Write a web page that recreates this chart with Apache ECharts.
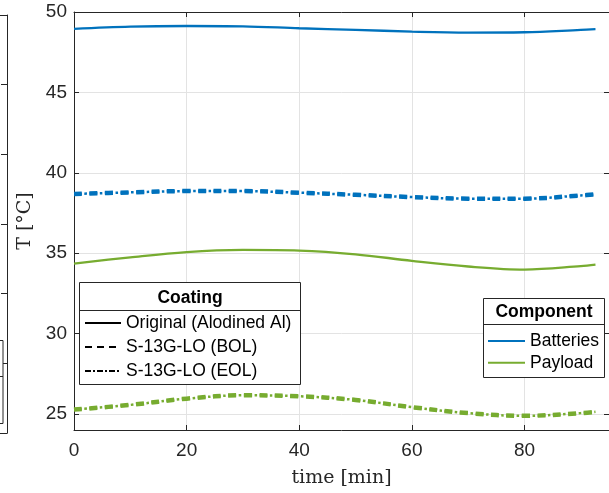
<!DOCTYPE html>
<html><head><meta charset="utf-8">
<script src="https://cdn.jsdelivr.net/npm/echarts@6/dist/echarts.min.js"></script>
<style>html,body{margin:0;padding:0;background:#fff;} #c{width:609px;height:493px;}</style>
</head><body><div id="c"></div>
<script>
// time [min]
const time = [0, 10, 20, 30, 40, 50, 60, 70, 80, 90, 92.6];
// Batteries temperature [°C]
const batteriesOriginal = [48.95, 49.09, 49.13, 49.11, 48.99, 48.89, 48.78, 48.72, 48.74, 48.89, 48.93];
const batteriesBOL = [38.68, 38.78, 38.86, 38.86, 38.76, 38.63, 38.49, 38.39, 38.39, 38.59, 38.66];
const batteriesEOL = [38.68, 38.78, 38.86, 38.86, 38.76, 38.63, 38.49, 38.39, 38.39, 38.59, 38.66];
// Payload temperature [°C]
const payloadOriginal = [34.35, 34.74, 35.07, 35.20, 35.16, 34.93, 34.52, 34.17, 33.98, 34.19, 34.28];
const payloadBOL = [25.27, 25.56, 25.95, 26.16, 26.10, 25.87, 25.42, 25.05, 24.88, 25.05, 25.13];
const payloadEOL = [25.27, 25.56, 25.95, 26.16, 26.10, 25.87, 25.42, 25.05, 24.88, 25.05, 25.13];
// ticks
const xTicks = [0, 20, 40, 60, 80];
const yTicks = [25, 30, 35, 40, 45, 50];
// legends
const coatingTitle = 'Coating';
const coatingNames = ['Original (Alodined Al)', 'S-13G-LO (BOL)', 'S-13G-LO (EOL)'];
const componentTitle = 'Component';
const componentNames = ['Batteries', 'Payload'];

const BLUE = '#0072BD', GREEN = '#77AC30', AX = '#262626', GRID = '#e3e3e3';
const SANS = 'Liberation Sans, Arial, Helvetica, sans-serif';
const SERIF = 'DejaVu Serif, Liberation Serif, serif';
const DASH = [8, 7.5];
const DASHDOT = [8, 2.5, 2.5, 2.5];

function pts(v) { return time.map((t, i) => [t, v[i]]); }
function line(name, data, color, type, width) {
  return { name, type: 'line', xAxisIndex: 0, yAxisIndex: 0, data: pts(data), smooth: 0.35,
    symbol: 'none', showSymbol: false, silent: true, z: 3,
    lineStyle: { color, type, width }, itemStyle: { color } };
}
function dummy(name, color, type) {
  return { name, type: 'line', xAxisIndex: 0, yAxisIndex: 0, data: [], symbol: 'none',
    lineStyle: { color, type, width: 2 }, itemStyle: { color, opacity: 0 } };
}

const legendCommon = { orient: 'vertical', padding: 0, itemHeight: 14, selectedMode: false, z: 10,
  itemStyle: { opacity: 0, borderWidth: 0 },
  textStyle: { fontSize: 17.5, fontFamily: SANS, color: '#000', lineHeight: 20 } };

const chart = echarts.init(document.getElementById('c'), null, { renderer: 'canvas' });
const option = {
  animation: false,
  backgroundColor: '#fff',
  grid: [
    { left: 74, top: 12, width: 537, height: 421, show: false },
    { left: 0, top: 15, width: 7, height: 418, show: false }
  ],
  xAxis: [
    { gridIndex: 0, type: 'value', min: 0, max: 95, interval: 20, position: 'bottom',
      axisLine: { show: true, onZero: false, lineStyle: { color: AX, width: 1 } },
      axisTick: { show: true, inside: true, length: 5, customValues: xTicks, lineStyle: { color: AX } },
      axisLabel: { customValues: xTicks, color: AX, fontSize: 19, fontFamily: SANS, margin: 11 },
      splitLine: { show: true, lineStyle: { color: GRID, width: 1 } },
      name: 'time [min]', nameLocation: 'middle', nameGap: 39,
      nameTextStyle: { fontFamily: SERIF, fontSize: 19, color: AX } },
    { gridIndex: 0, type: 'value', min: 0, max: 95, interval: 20, position: 'top',
      axisLine: { show: true, onZero: false, lineStyle: { color: AX, width: 1 } },
      axisTick: { show: true, inside: true, length: 5, customValues: xTicks, lineStyle: { color: AX } },
      axisLabel: { show: false }, splitLine: { show: false } },
    { gridIndex: 1, type: 'value', min: 0, max: 1, position: 'bottom',
      axisLine: { show: true, onZero: false, lineStyle: { color: AX } },
      axisTick: { show: false }, axisLabel: { show: false }, splitLine: { show: false } },
    { gridIndex: 1, type: 'value', min: 0, max: 1, position: 'top',
      axisLine: { show: true, onZero: false, lineStyle: { color: AX } },
      axisTick: { show: false }, axisLabel: { show: false }, splitLine: { show: false } }
  ],
  yAxis: [
    { gridIndex: 0, type: 'value', min: 24, max: 50, position: 'left',
      axisLine: { show: true, onZero: false, lineStyle: { color: AX, width: 1 } },
      axisTick: { show: true, inside: true, length: 5, customValues: yTicks, lineStyle: { color: AX } },
      axisLabel: { customValues: yTicks, color: AX, fontSize: 19, fontFamily: SANS, margin: 7 },
      splitLine: { show: true, lineStyle: { color: GRID, width: 1 } },
      name: 'T [°C]', nameLocation: 'middle', nameGap: 37, nameRotate: 90,
      nameTextStyle: { fontFamily: SERIF, fontSize: 19, color: AX } },
    { gridIndex: 0, type: 'value', min: 24, max: 50, position: 'right',
      axisLine: { show: true, onZero: false, lineStyle: { color: AX, width: 1 } },
      axisTick: { show: true, inside: true, length: 5, customValues: yTicks, lineStyle: { color: AX } },
      axisLabel: { show: false }, splitLine: { show: false } },
    { gridIndex: 1, type: 'value', min: 0, max: 6, interval: 1, position: 'right',
      axisLine: { show: true, onZero: false, lineStyle: { color: AX } },
      axisTick: { show: true, inside: true, length: 6, lineStyle: { color: AX } },
      axisLabel: { show: false }, splitLine: { show: false } }
  ],
  legend: [
    Object.assign({}, legendCommon, { data: coatingNames, left: 84, top: 313, itemWidth: 36, itemGap: 4 }),
    Object.assign({}, legendCommon, { data: componentNames, left: 487, top: 331, itemWidth: 37, itemGap: 1.7 })
  ],
  graphic: [
    { type: 'rect', z: 8, shape: { x: 79.5, y: 282.5, width: 221, height: 102 },
      style: { fill: '#fff', stroke: AX, lineWidth: 1 } },
    { type: 'line', z: 9, shape: { x1: 79.5, y1: 310.5, x2: 300.5, y2: 310.5 }, style: { stroke: AX, lineWidth: 1 } },
    { type: 'text', z: 9, x: 190, y: 298, style: { text: coatingTitle, font: 'bold 17.5px ' + SANS, fill: '#000', textAlign: 'center', textVerticalAlign: 'middle' } },
    { type: 'rect', z: 8, shape: { x: 483.5, y: 298.5, width: 121, height: 79 },
      style: { fill: '#fff', stroke: AX, lineWidth: 1 } },
    { type: 'line', z: 9, shape: { x1: 483.5, y1: 324.5, x2: 604.5, y2: 324.5 }, style: { stroke: AX, lineWidth: 1 } },
    { type: 'text', z: 9, x: 544, y: 312, style: { text: componentTitle, font: 'bold 17.5px ' + SANS, fill: '#000', textAlign: 'center', textVerticalAlign: 'middle' } },
    { type: 'rect', z: 8, shape: { x: -100, y: 340.5, width: 103, height: 83 },
      style: { fill: '#fff', stroke: AX, lineWidth: 1 } },
    { type: 'line', z: 9, shape: { x1: -100, y1: 376.5, x2: 3, y2: 376.5 }, style: { stroke: AX, lineWidth: 1 } }
  ],
  series: [
    line('Batteries – Original', batteriesOriginal, BLUE, 'solid', 2.3),
    line('Batteries – BOL', batteriesBOL, BLUE, DASH, 4.5),
    line('Batteries – EOL', batteriesEOL, BLUE, DASHDOT, 2.5),
    line('Payload – Original', payloadOriginal, GREEN, 'solid', 2.3),
    line('Payload – BOL', payloadBOL, GREEN, DASH, 4.5),
    line('Payload – EOL', payloadEOL, GREEN, DASHDOT, 2.5),
    dummy(coatingNames[0], '#000', 'solid'),
    dummy(coatingNames[1], '#000', [7, 5]),
    dummy(coatingNames[2], '#000', [6, 2, 2, 2]),
    dummy(componentNames[0], BLUE, 'solid'),
    dummy(componentNames[1], GREEN, 'solid')
  ]
};
chart.setOption(option);
</script>
</body></html>
